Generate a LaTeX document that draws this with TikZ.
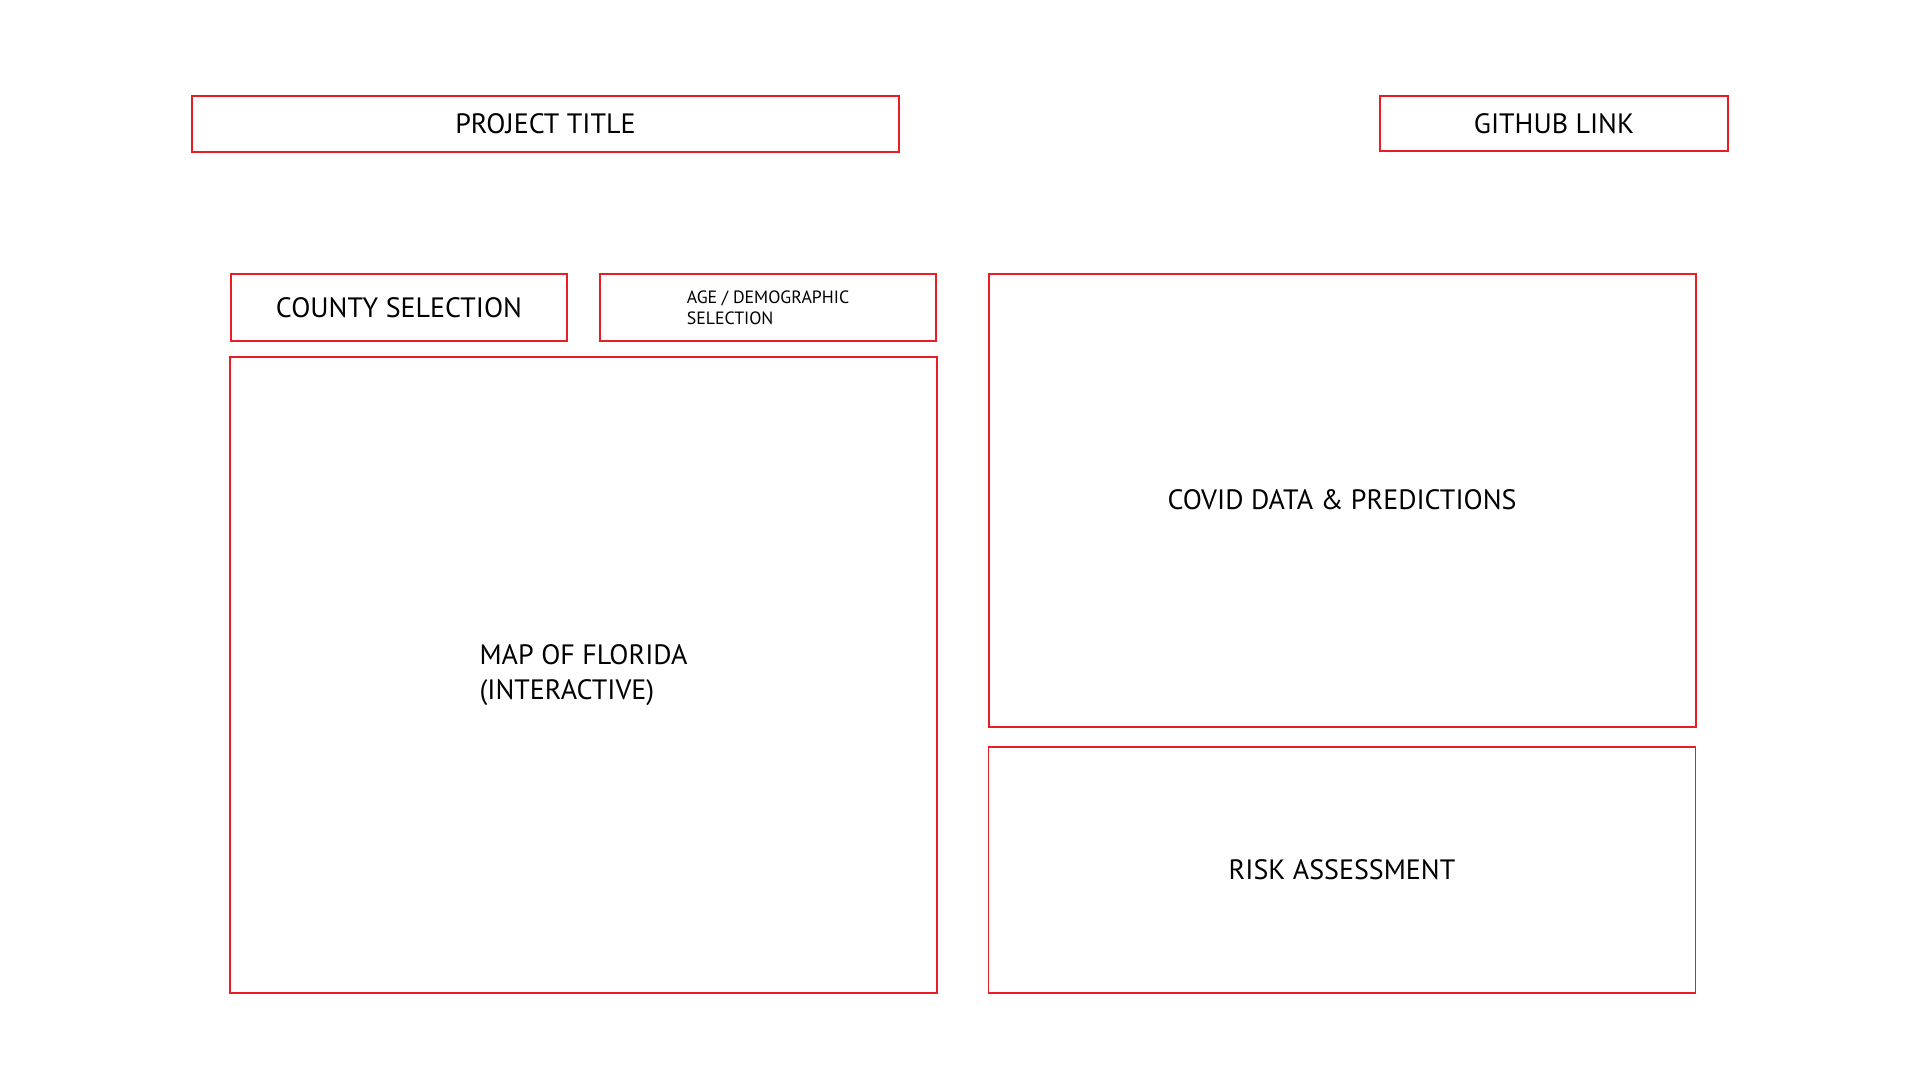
\documentclass[tikz,border=0pt]{standalone}
\usepackage{fontspec}
\setmainfont{PT Sans}
\usepackage{tikz}
\definecolor{boxred}{RGB}{237,28,36}
\tikzstyle{panel}=[draw=boxred,line width=2pt,inner sep=0pt,font=\fontsize{28}{32}\selectfont]
\tikzstyle{smallpanel}=[panel,font=\fontsize{17.8}{21}\selectfont,align=left]

\begin{document}
\begin{tikzpicture}[x=1pt,y=-1pt]
    \useasboundingbox (0,0) rectangle (1920,1080);
    \node[panel,minimum width=707,minimum height=56] (title) at (545.5,123.5) {PROJECT TITLE};
    \node[panel,minimum width=348,minimum height=55] (github) at (1554,123.5) {GITHUB LINK};
    \node[panel,minimum width=336,minimum height=67] (county) at (399,307.5) {COUNTY SELECTION};
    \node[smallpanel,minimum width=336,minimum height=67] (agedemo) at (768,307.5) {AGE / DEMOGRAPHIC\\SELECTION};
    \node[panel,minimum width=707,minimum height=636,align=left,font=\fontsize{28}{35}\selectfont] (map) at (583.5,675) {MAP OF FLORIDA\\(INTERACTIVE)};
    \node[panel,minimum width=707,minimum height=453] (covid) at (1342,500) {COVID DATA \& PREDICTIONS};
    \node[panel,line width=1.6pt,minimum width=707,minimum height=246] (risk) at (1342,870) {RISK ASSESSMENT};
\end{tikzpicture}
\end{document}
